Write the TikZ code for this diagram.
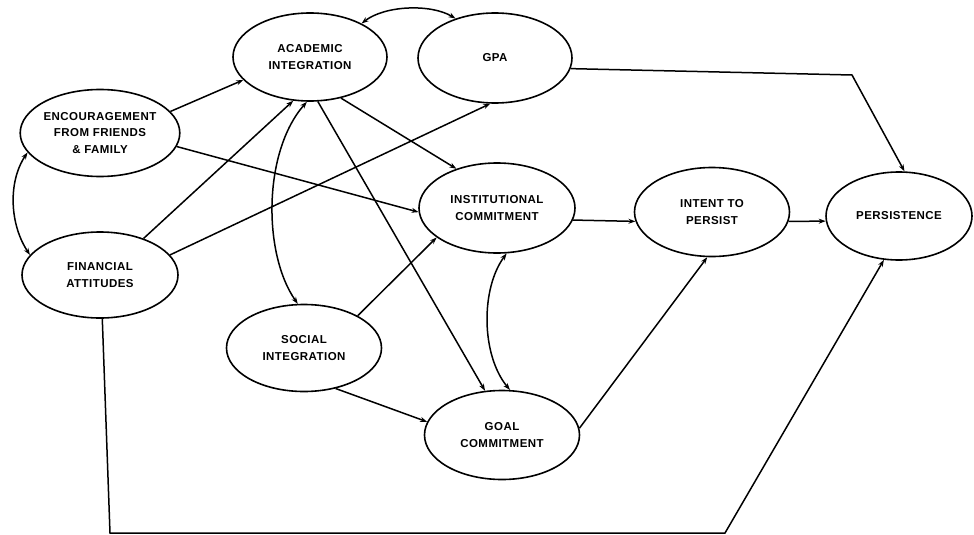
\documentclass[tikz,border=0pt]{standalone}
\usepackage{fontspec}
\newfontfamily\lblfont{Liberation Sans}[LetterSpace=4]
\usetikzlibrary{shapes.geometric,arrows.meta}
\tikzset{
  ell/.style={ellipse, draw, line width=1.6pt, inner sep=0pt, align=center,
    font=\lblfont\bfseries\fontsize{11.5}{16.5}\selectfont},
  con/.style={line width=1.5pt, -{Stealth[length=7pt,width=5pt]}},
  bicon/.style={line width=1.5pt, {Stealth[length=7pt,width=5pt]}-{Stealth[length=7pt,width=5pt]}}
}
\begin{document}
\begin{tikzpicture}[x=1pt,y=-1pt]
\useasboundingbox (0,0) rectangle (974,535);
\node[ell, minimum width=154pt, minimum height=88pt] (acad) at (310,57) {ACADEMIC\\INTEGRATION};
\node[ell, minimum width=154pt, minimum height=90pt] (gpa) at (495,58) {GPA};
\node[ell, minimum width=155pt, minimum height=87pt] (enc) at (100,133) {ENCOURAGEMENT\\FROM FRIENDS\\\& FAMILY};
\node[ell, minimum width=156pt, minimum height=86pt] (fin) at (100,275) {FINANCIAL\\ATTITUDES};
\node[ell, minimum width=156pt, minimum height=90pt] (inst) at (497,208) {INSTITUTIONAL\\COMMITMENT};
\node[ell, minimum width=155pt, minimum height=89pt] (intent) at (712,212) {INTENT TO\\PERSIST};
\node[ell, minimum width=146pt, minimum height=88pt] (pers) at (899,216) {PERSISTENCE};
\node[ell, minimum width=155pt, minimum height=87pt] (soc) at (304,348) {SOCIAL\\INTEGRATION};
\node[ell, minimum width=155pt, minimum height=89pt] (goal) at (502,435) {GOAL\\COMMITMENT};

\coordinate (g1) at (852,75);
\coordinate (f1) at (110,533);
\coordinate (f2) at (725,533);

\draw[con] (enc.17) -- (acad.199);
\draw[con] (enc.-10) -- (inst.183);
\draw[con] (fin.40) -- (acad.249);
\draw[con] (fin.16) -- (gpa.264);
\draw[bicon] (enc.195) .. controls +(-20,30) and +(-20,-30) .. (fin.164);
\draw[bicon] (acad.33) .. controls +(23,-18) and +(-25,-15) .. (gpa.135);
\draw[bicon] (acad.266) .. controls +(-44,50) and +(-35,-50) .. (soc.98);
\draw[con] (acad.307) -- (inst.136);
\draw[con] (acad.280) -- (goal.111);
\draw[bicon] (inst.282) .. controls +(-26,35) and +(-29,-35) .. (goal.80);
\draw[con] (soc.31) -- (inst.206);
\draw[con] (soc.308) -- (goal.170);
\draw[con] (inst.-9.5) -- (intent.187);
\draw[con] (intent.-7) -- (pers.184);
\draw[con] (goal.5) -- (intent.264);
\draw[con] (gpa.-8) -- (g1) -- (pers.83.5);
\draw[con] (fin.273) -- (f1) -- (f2) -- (pers.251);
\end{tikzpicture}
\end{document}
